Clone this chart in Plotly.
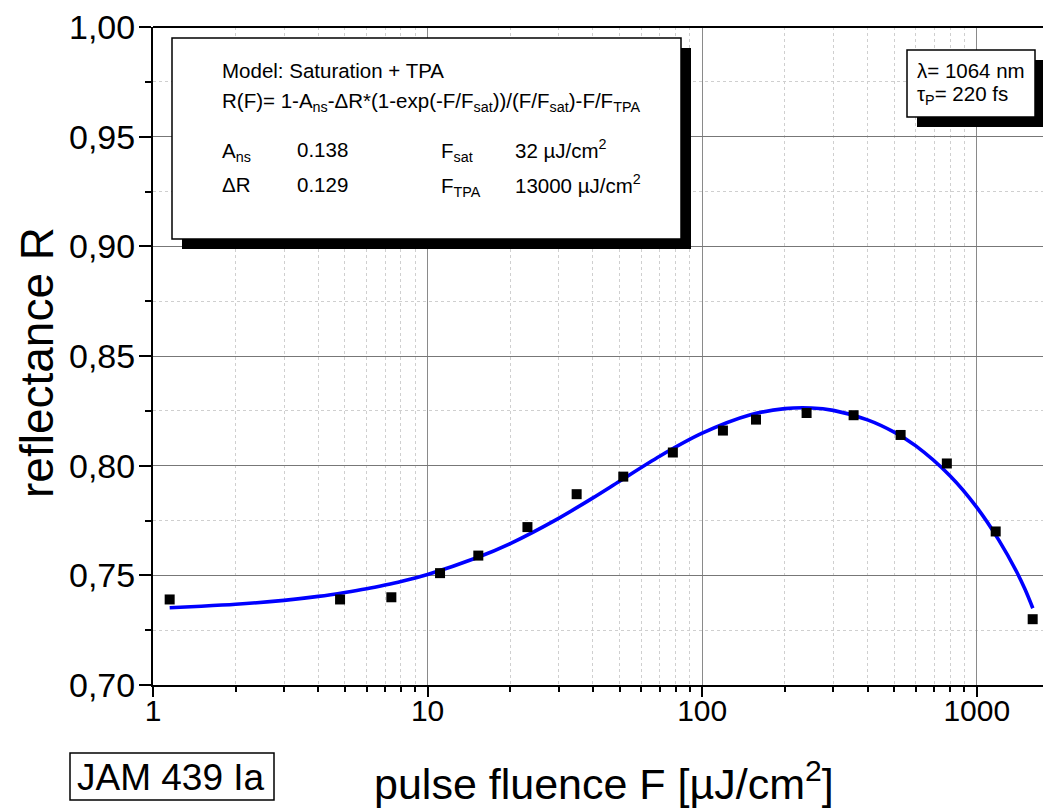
import plotly.graph_objects as go

# ---- data ----
fluence = [1.15, 4.80, 7.38, 11.1, 15.3, 23.1, 34.9, 51.6, 78.2, 119, 157, 240, 356, 528, 778, 1172, 1598]
reflect = [0.739, 0.739, 0.740, 0.751, 0.759, 0.772, 0.787, 0.795, 0.806, 0.816, 0.821, 0.824, 0.823, 0.814, 0.801, 0.770, 0.730]

fit_fluence = [1.15, 1.5, 2, 3, 4, 5, 6, 7, 8, 10, 15, 20, 30, 40, 50, 70, 100, 150, 200, 250, 300, 400, 500, 600, 800, 1000, 1200, 1400, 1500, 1600]
fit_reflect = [0.7352, 0.7359, 0.7368, 0.7386, 0.7404, 0.7422, 0.7439, 0.7456, 0.7472, 0.7504, 0.7579, 0.7645, 0.7760, 0.7853, 0.7929, 0.8043, 0.8148, 0.8232, 0.8260, 0.8263, 0.8252, 0.8209, 0.8153, 0.8090, 0.7953, 0.7810, 0.7663, 0.7514, 0.7435, 0.7350]

x_tickvals = [1, 10, 100, 1000]
x_ticktext = ["1", "10", "100", "1000"]
x_minorvals = [2, 3, 4, 5, 6, 7, 8, 9, 20, 30, 40, 50, 60, 70, 80, 90, 200, 300, 400, 500, 600, 700, 800, 900]
y_tickvals = [0.70, 0.75, 0.80, 0.85, 0.90, 0.95, 1.00]
y_ticktext = ["0,70", "0,75", "0,80", "0,85", "0,90", "0,95", "1,00"]
y_minorvals = [0.725, 0.775, 0.825, 0.875, 0.925, 0.975]

# page body has an 8px margin: figure is drawn 8px right/down of the window corner
OFF = 8
W, H = 1051 - OFF, 810 - OFF
L, R, T, B = 145, 0, 19, 125
# plot area in window (reference) pixels
X0, X1 = L + OFF, W + OFF
Y0, Y1 = T + OFF, H - B + OFF

def px(x):
    return (x - X0) / (X1 - X0)

def py(y):
    return (Y1 - y) / (Y1 - Y0)

ARIAL = "Liberation Sans, Arial, sans-serif"

fig = go.Figure()
fig.add_trace(go.Scatter(x=fit_fluence, y=fit_reflect, mode="lines",
                         line=dict(color="#0000ff", width=3.6, shape="spline", smoothing=0.8),
                         hoverinfo="skip", showlegend=False))
fig.add_trace(go.Scatter(x=fluence, y=reflect, mode="markers",
                         marker=dict(symbol="square", size=10, color="black"),
                         showlegend=False))

shapes = []
annotations = []

# top frame line
shapes.append(dict(type="line", xref="paper", yref="paper", x0=0, x1=1, y0=1, y1=1,
                   line=dict(color="black", width=2), layer="above"))

def box(x0, y0, x1, y1, shadow=10, lw=1.5):
    if shadow:
        shapes.append(dict(type="rect", xref="paper", yref="paper",
                           x0=px(x0 + shadow), x1=px(x1 + shadow), y0=py(y1 + shadow), y1=py(y0 + shadow),
                           fillcolor="black", line=dict(width=0), layer="above"))
    shapes.append(dict(type="rect", xref="paper", yref="paper",
                       x0=px(x0), x1=px(x1), y0=py(y1), y1=py(y0),
                       fillcolor="white", line=dict(color="black", width=lw), layer="above"))

def text(x, y, s, size=20.5, anchor="left", angle=0):
    annotations.append(dict(xref="paper", yref="paper", x=px(x), y=py(y), text=s,
                            showarrow=False, xanchor=anchor, yanchor="middle", textangle=angle,
                            font=dict(family=ARIAL, size=size, color="black")))

# model box
box(172, 38, 681, 239)
text(220, 71, "Model: Saturation + TPA")
text(220, 102, "R(F)= 1-A<sub>ns</sub>-ΔR*(1-exp(-F/F<sub>sat</sub>))/(F/F<sub>sat</sub>)-F/F<sub>TPA</sub>")
text(220, 152, "A<sub>ns</sub>")
text(295, 149, "0.138")
text(439, 152, "F<sub>sat</sub>")
text(513, 149, "32 µJ/cm<sup>2</sup>")
text(220, 184, "ΔR")
text(295, 184, "0.129")
text(439, 187, "F<sub>TPA</sub>")
text(513, 184, "13000 µJ/cm<sup>2</sup>")

# lambda box
box(907, 50, 1035, 117, shadow=10)
text(915, 70, "λ= 1064 nm")
text(915, 95, "τ<sub>P</sub>= 220 fs")

# sample label box
box(70, 753, 274, 800, shadow=0, lw=1.5)
text(171, 777, "JAM 439 Ia", size=37, anchor="center")

# axis titles
text(37, 362, "reflectance R", size=46, anchor="center", angle=-90)
text(604, 781, "pulse fluence F [µJ/cm<sup>2</sup>]", size=43, anchor="center")

fig.update_layout(
    width=W, height=H,
    margin=dict(l=L, r=R, t=T, b=B, pad=0),
    paper_bgcolor="white", plot_bgcolor="white",
    shapes=shapes, annotations=annotations,
    xaxis=dict(type="log", range=[0, 3.2703], tickvals=x_tickvals, ticktext=x_ticktext,
               ticks="outside", ticklen=10, tickwidth=2, tickcolor="black",
               ticklabelstandoff=-12, ticklabeloverflow="allow",
               showline=True, linecolor="black", linewidth=2,
               showgrid=True, gridcolor="#8a8a8a", gridwidth=1,
               tickfont=dict(family=ARIAL, size=30, color="black"),
               minor=dict(tickvals=x_minorvals, ticks="outside", ticklen=5, tickwidth=1.5,
                          tickcolor="black", showgrid=True, gridcolor="#cfcfcf",
                          griddash="dot", gridwidth=1),
               zeroline=False),
    yaxis=dict(range=[0.70, 1.00], tickvals=y_tickvals, ticktext=y_ticktext,
               ticks="outside", ticklen=12, tickwidth=2, tickcolor="black",
               ticklabeloverflow="allow", ticklabelstandoff=-3,
               showline=True, linecolor="black", linewidth=2,
               showgrid=True, gridcolor="#777777", gridwidth=1.2,
               tickfont=dict(family=ARIAL, size=34, color="black"),
               minor=dict(tickvals=y_minorvals, ticks="outside", ticklen=6, tickwidth=1.5,
                          tickcolor="black", showgrid=True, gridcolor="#cfcfcf",
                          griddash="dot", gridwidth=1),
               zeroline=False),
)

fig.write_html("out.html")
